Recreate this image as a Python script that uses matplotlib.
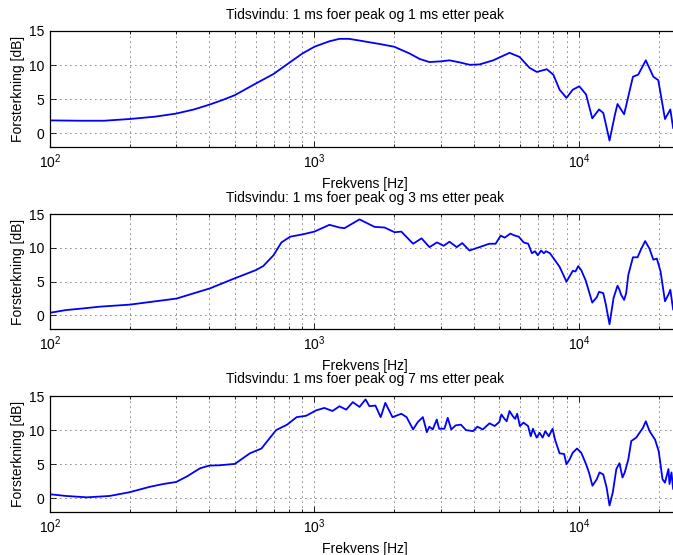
import numpy as np
import matplotlib
matplotlib.use('Agg')
import matplotlib.pyplot as plt
from matplotlib.ticker import LogLocator, FixedLocator

plt.rcParams['font.family'] = ['Liberation Sans', 'DejaVu Sans']
plt.rcParams['mathtext.fontset'] = 'custom'
plt.rcParams['mathtext.rm'] = 'Liberation Sans'
plt.rcParams['mathtext.it'] = 'Liberation Sans'

# window 1 ms before / 1 ms after peak
freq1 = [100, 130, 160, 200, 250, 300, 350, 400, 450, 500,
         600, 700, 800, 900, 1000, 1140, 1243, 1350, 1480, 1760,
         2000, 2290, 2500, 2720, 3000, 3240, 3540, 3860, 4208, 4740,
         5465, 5962, 6505, 6930, 7560, 8000, 8448, 8970, 9480, 10030,
         10640, 11230, 11910, 12360, 13050, 13690, 13990, 14820, 16000, 16750,
         17900, 19110, 19950, 21150, 22160, 22700]
gain1 = [1.9, 1.85, 1.85, 2.1, 2.45, 2.9, 3.5, 4.2, 4.9, 5.6,
         7.3, 8.7, 10.3, 11.7, 12.7, 13.5, 13.85, 13.85, 13.6, 13.1,
         12.7, 11.7, 10.9, 10.45, 10.55, 10.7, 10.4, 10.05, 10.1, 10.7,
         11.8, 11.2, 9.6, 9.0, 9.4, 8.6, 6.4, 5.2, 6.4, 6.9,
         5.7, 2.2, 3.5, 3.0, -1.05, 2.8, 4.3, 2.8, 8.3, 8.6,
         10.7, 8.3, 7.8, 2.1, 3.5, 0.8]

# window 1 ms before / 3 ms after peak
freq2 = [100, 115, 134, 154, 200, 301, 402, 500, 600, 640,
         700, 750, 810, 905, 1000, 1139, 1243, 1298, 1480, 1687,
         1840, 2010, 2130, 2360, 2540, 2722, 2905, 3080, 3240, 3450,
         3620, 3857, 4130, 4580, 4840, 5060, 5240, 5500, 5730, 5920,
         6180, 6430, 6640, 6820, 6990, 7190, 7370, 7500, 7770, 8448,
         8970, 9480, 9700, 9940, 10200, 10600, 11230, 11680, 11910, 12360,
         12640, 13050, 13520, 13990, 14230, 14420, 14820, 15090, 15370, 16000,
         16660, 17200, 17800, 18490, 19110, 19710, 20350, 21150, 21800, 22160,
         22700]
gain2 = [0.4, 0.8, 1.05, 1.3, 1.6, 2.5, 4.0, 5.5, 6.7, 7.3,
         8.9, 10.8, 11.65, 12.0, 12.4, 13.4, 13.0, 12.9, 14.2, 13.1,
         13.0, 12.3, 12.4, 10.6, 11.4, 10.1, 10.8, 10.3, 10.9, 10.1,
         10.7, 9.6, 10.0, 10.6, 10.6, 11.8, 11.5, 12.1, 11.8, 11.65,
         10.8, 10.6, 9.2, 9.5, 8.9, 9.6, 9.2, 9.5, 9.2, 7.2,
         5.0, 6.6, 6.5, 7.3, 6.7, 5.2, 1.9, 2.7, 3.5, 3.3,
         1.6, -1.3, 2.6, 4.4, 3.8, 3.1, 2.3, 3.3, 6.0, 8.6,
         8.6, 9.85, 11.0, 9.85, 8.25, 8.4, 6.5, 2.1, 3.1, 3.8,
         0.9]

# window 1 ms before / 7 ms after peak
freq3 = [100, 115, 138, 168, 200, 239, 268, 300, 329, 369,
         400, 439, 500, 570, 630, 716, 788, 856, 930, 1015,
         1090, 1170, 1243, 1318, 1396, 1480, 1560, 1614, 1700, 1780,
         1853, 1972, 2130, 2230, 2360, 2460, 2570, 2660, 2720, 2800,
         2900, 2960, 3100, 3190, 3290, 3420, 3580, 3740, 3980, 4130,
         4330, 4590, 4800, 5000, 5090, 5230, 5330, 5465, 5610, 5740,
         5840, 5980, 6170, 6420, 6570, 6700, 6920, 7100, 7290, 7460,
         7690, 7950, 8120, 8448, 8790, 8970, 9217, 9480, 9830, 10200,
         10640, 10910, 11250, 11680, 11960, 12360, 12720, 13050, 13430, 13850,
         14230, 14610, 14900, 15370, 15770, 16460, 16940, 17440, 17900, 18490,
         19400, 20030, 20700, 21150, 21800, 22000, 22380, 22700]
gain3 = [0.6, 0.35, 0.15, 0.35, 0.9, 1.7, 2.1, 2.4, 3.2, 4.4,
         4.8, 4.85, 5.05, 6.6, 7.3, 10.0, 10.8, 11.9, 12.1, 12.9,
         13.25, 12.8, 13.5, 13.0, 14.1, 13.4, 14.5, 13.5, 13.6, 11.9,
         14.0, 11.9, 12.4, 11.9, 10.1, 11.2, 11.9, 9.7, 10.5, 10.1,
         11.55, 10.2, 10.2, 11.8, 10.1, 10.7, 10.8, 10.0, 9.85, 10.5,
         10.1, 11.0, 10.6, 11.2, 12.3, 11.65, 11.3, 12.8, 12.1, 11.65,
         12.4, 10.6, 11.1, 10.6, 9.1, 10.2, 8.9, 9.6, 8.9, 9.85,
         9.1, 10.2, 8.6, 6.6, 6.5, 5.0, 5.7, 6.7, 7.3, 6.7,
         5.0, 3.8, 1.85, 2.8, 3.8, 3.5, 1.6, -1.05, 0.9, 4.3,
         5.15, 3.05, 3.8, 5.7, 8.4, 8.9, 9.6, 10.3, 11.3, 9.85,
         8.6, 6.9, 2.8, 2.3, 4.3, 2.1, 3.8, 1.4]

titles = ['Tidsvindu: 1 ms foer peak og 1 ms etter peak',
          'Tidsvindu: 1 ms foer peak og 3 ms etter peak',
          'Tidsvindu: 1 ms foer peak og 7 ms etter peak']
yticks = [0, 5, 10, 15]

W, H = 673, 555
fig = plt.figure(figsize=(W / 100, H / 100), dpi=100)

# axes boxes in pixels: (top, bottom); right edge runs off the figure
boxes = [(31, 147), (214, 329), (396, 512)]
left_px, right_px = 50, 679.5

for (top, bot), f, g, title in zip(boxes, [freq1, freq2, freq3],
                                   [gain1, gain2, gain3], titles):
    ax = fig.add_axes([left_px / W, 1 - bot / H,
                       (right_px - left_px) / W, (bot - top) / H])
    ax.semilogx(f, g, color='#0000ff', lw=1.3)
    ax.set_xlim(100, 24000)
    ax.set_ylim(-2, 15)
    ax.set_yticks(yticks)
    ax.xaxis.set_major_locator(FixedLocator([100, 1000, 10000]))
    ax.xaxis.set_minor_locator(LogLocator(base=10, subs=np.arange(2, 10)))
    ax.grid(True, which='major', color='k', ls=(0, (1, 5)), lw=0.6)
    ax.grid(True, which='minor', axis='x', color='k', ls=(0, (1, 5)), lw=0.6)
    ax.tick_params(which='both', direction='in', top=True, right=True,
                   labelsize=10, width=0.6)
    ax.tick_params(which='major', length=4, pad=4)
    ax.tick_params(which='minor', length=2.5)
    for s in ax.spines.values():
        s.set_linewidth(0.9)
    ax.set_title(title, fontsize=10, pad=9)
    ax.set_xlabel('Frekvens [Hz]', fontsize=10, labelpad=4)
    ax.set_ylabel('Forsterkning [dB]', fontsize=10, labelpad=3)

fig.savefig('out.png', dpi=100)
